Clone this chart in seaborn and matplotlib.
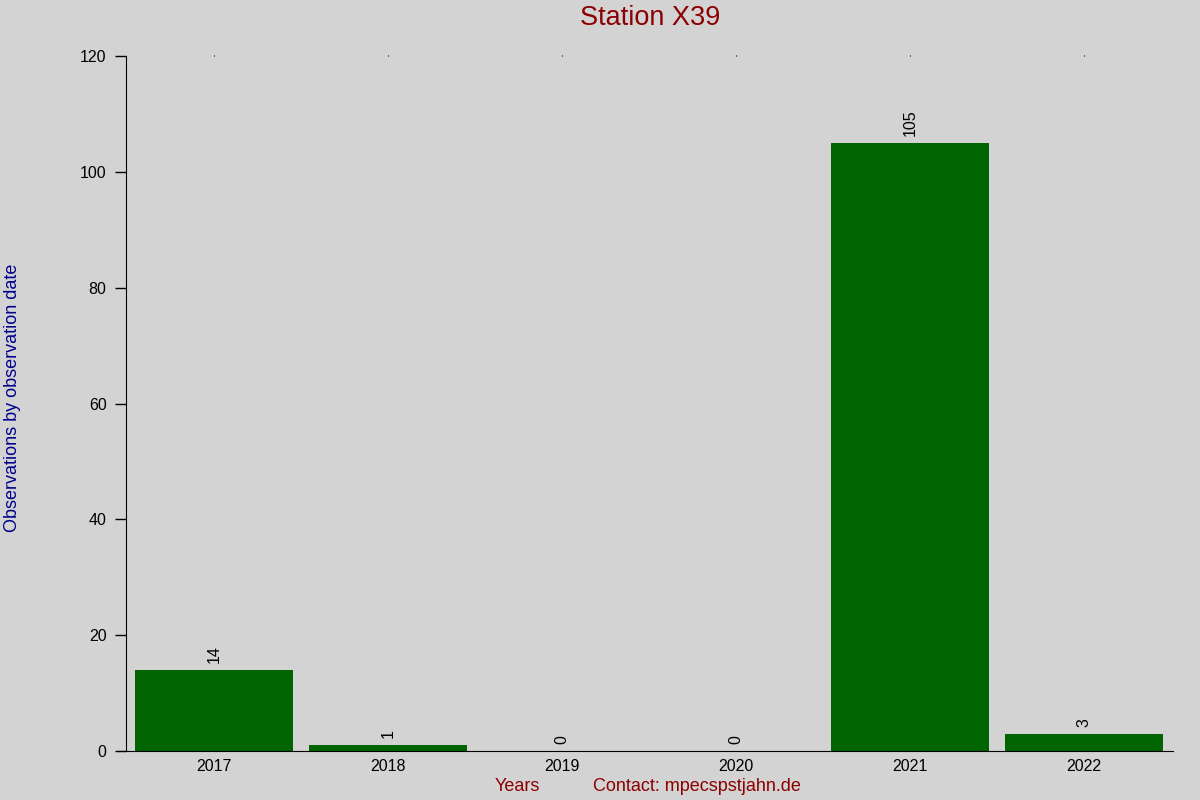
import seaborn as sns
import matplotlib.pyplot as plt
import pandas as pd

years = ["2017", "2018", "2019", "2020", "2021", "2022"]
counts = [14, 1, 0, 0, 105, 3]

BG = "#d3d3d3"


def plot_station():
    df = pd.DataFrame({"year": years, "count": counts})

    sns.set_style("white")
    plt.rcParams["font.family"] = ["Liberation Sans", "DejaVu Sans"]
    plt.rcParams["text.color"] = "black"
    plt.rcParams["xtick.color"] = "black"
    plt.rcParams["ytick.color"] = "black"

    fig = plt.figure(figsize=(12, 8), dpi=100, facecolor=BG)
    ax = fig.add_axes([0.105, 0.06125, 0.8725, 0.86875])
    ax.set_facecolor(BG)

    sns.barplot(data=df, x="year", y="count", color="#006400", saturation=1,
                width=0.91, linewidth=0, edgecolor="none", ax=ax)

    # value labels above bars
    for i, v in enumerate(counts):
        ax.annotate(str(v), (i, v), xytext=(0, 5), textcoords="offset points",
                    rotation=90, ha="center", va="bottom", fontsize=11.5,
                    color="black")

    ax.set_xlim(-0.506, 5.51)
    ax.set_ylim(0, 120)
    ax.set_yticks([0, 20, 40, 60, 80, 100, 120])

    for s in ["top", "right"]:
        ax.spines[s].set_visible(False)
    ax.spines["left"].set_color("black")
    ax.spines["bottom"].set_color("black")
    ax.spines["bottom"].set_bounds(-0.556, 5.51)
    ax.tick_params(axis="y", length=8, width=1, labelsize=11.5, left=True,
                   pad=6, colors="black")
    ax.tick_params(axis="x", length=0, labelsize=11.5, pad=6, colors="black")

    # tiny marks on top
    top = ax.secondary_xaxis("top")
    top.set_xticks(range(len(years)))
    top.tick_params(length=1, labeltop=False, colors="black")
    top.spines["top"].set_visible(False)

    ax.set_xlabel("")
    ax.set_ylabel("")
    fig.text(0.5417, 0.9775, "Station X39", color="#8b0000", fontsize=19.5,
             ha="center", va="center")
    fig.text(0.0105, 0.5025, "Observations by observation date", color="#00008b",
             fontsize=13, rotation=90, ha="center", va="center")
    fig.text(0.431, 0.0165, "Years", color="#8b0000", fontsize=13,
             ha="center", va="center")
    fig.text(0.581, 0.0165, "Contact: mpecspstjahn.de", color="#8b0000",
             fontsize=13, ha="center", va="center")

    fig.savefig("out.png", dpi=100, facecolor=BG)


if __name__ == "__main__":
    plot_station()
